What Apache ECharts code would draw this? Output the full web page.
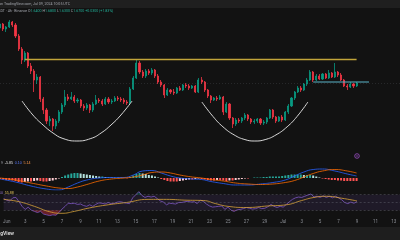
<!DOCTYPE html>
<html><head><meta charset="utf-8">
<script src="https://cdn.jsdelivr.net/npm/echarts@6/dist/echarts.min.js"></script>
<style>html,body{margin:0;padding:0;background:#121212;overflow:hidden}#c{width:400px;height:240px}</style>
</head><body><div id="c"></div>
<script>
// ---- time slots (8h candles), first slot May 31 2024 16:00 UTC
const firstSlot = Date.UTC(2024, 4, 31, 16);
const slotHours = 8;
const slotCount = 130;
const categories = [];
for (let i = 0; i < slotCount; i++) {
  categories.push(new Date(firstSlot + i * slotHours * 3600e3).toISOString().slice(0, 16).replace('T', ' '));
}
const monthNames = ['Jan','Feb','Mar','Apr','May','Jun','Jul','Aug','Sep','Oct','Nov','Dec'];

// ---- candles [open, close, low, high]
const candles = [
[2.22,2.26,2.20,2.29],[2.26,2.21,2.19,2.27],[2.21,2.23,2.18,2.24],[2.23,2.28,2.22,2.30],[2.28,2.25,2.23,2.29],
[2.25,2.14,2.12,2.27],[2.14,2.01,1.99,2.16],[2.01,1.90,1.86,2.03],[1.90,1.97,1.88,1.99],[1.97,1.84,1.82,1.98],
[1.84,1.79,1.76,1.87],[1.79,1.70,1.58,1.81],[1.70,1.73,1.66,1.76],[1.73,1.51,1.48,1.74],[1.51,1.40,1.36,1.53],
[1.40,1.29,1.26,1.42],[1.29,1.31,1.24,1.34],[1.31,1.24,1.19,1.32],[1.24,1.29,1.21,1.31],[1.29,1.38,1.27,1.40],
[1.38,1.45,1.36,1.47],[1.45,1.53,1.43,1.60],[1.53,1.51,1.49,1.56],[1.51,1.53,1.50,1.58],[1.53,1.49,1.47,1.55],
[1.49,1.50,1.47,1.52],[1.50,1.44,1.42,1.51],[1.44,1.42,1.39,1.46],[1.42,1.45,1.40,1.47],[1.45,1.40,1.37,1.46],
[1.40,1.46,1.38,1.48],[1.46,1.50,1.45,1.55],[1.50,1.49,1.47,1.52],[1.49,1.46,1.44,1.51],[1.46,1.51,1.45,1.53],
[1.51,1.48,1.46,1.53],[1.48,1.49,1.46,1.51],[1.49,1.52,1.48,1.54],[1.52,1.51,1.49,1.54],[1.51,1.50,1.48,1.53],
[1.50,1.48,1.46,1.52],[1.48,1.47,1.45,1.50],[1.47,1.61,1.46,1.63],[1.61,1.72,1.60,1.74],[1.72,1.87,1.71,1.90],
[1.87,1.78,1.76,1.89],[1.78,1.74,1.72,1.80],[1.74,1.79,1.72,1.81],[1.79,1.77,1.75,1.81],[1.77,1.80,1.75,1.82],
[1.80,1.74,1.72,1.81],[1.74,1.68,1.66,1.76],[1.68,1.65,1.63,1.70],[1.65,1.55,1.52,1.66],[1.55,1.60,1.54,1.62],
[1.60,1.58,1.56,1.61],[1.58,1.57,1.55,1.61],[1.57,1.62,1.56,1.63],[1.62,1.60,1.59,1.64],[1.60,1.65,1.59,1.66],
[1.65,1.64,1.62,1.67],[1.64,1.62,1.60,1.66],[1.62,1.64,1.61,1.65],[1.64,1.58,1.57,1.65],[1.58,1.70,1.57,1.72],
[1.70,1.68,1.66,1.73],[1.68,1.60,1.58,1.69],[1.60,1.54,1.52,1.61],[1.54,1.50,1.47,1.55],[1.50,1.52,1.49,1.53],
[1.52,1.51,1.49,1.54],[1.51,1.53,1.50,1.55],[1.53,1.38,1.35,1.54],[1.38,1.46,1.37,1.48],[1.46,1.32,1.30,1.47],
[1.32,1.26,1.22,1.33],[1.26,1.30,1.24,1.32],[1.30,1.29,1.27,1.32],[1.29,1.32,1.27,1.33],[1.32,1.35,1.30,1.37],
[1.35,1.31,1.29,1.36],[1.31,1.28,1.26,1.32],[1.28,1.29,1.26,1.31],[1.29,1.31,1.27,1.32],[1.31,1.27,1.25,1.32],
[1.27,1.28,1.25,1.30],[1.28,1.32,1.26,1.33],[1.32,1.40,1.31,1.41],[1.40,1.33,1.31,1.41],[1.33,1.29,1.27,1.34],
[1.29,1.33,1.28,1.34],[1.33,1.30,1.28,1.35],[1.30,1.38,1.29,1.39],[1.38,1.44,1.36,1.46],[1.44,1.52,1.43,1.53],
[1.52,1.58,1.50,1.59],[1.58,1.62,1.57,1.64],[1.62,1.60,1.58,1.64],[1.60,1.66,1.59,1.67],[1.66,1.70,1.64,1.72],
[1.70,1.78,1.69,1.80],[1.78,1.70,1.68,1.79],[1.70,1.74,1.69,1.76],[1.74,1.71,1.70,1.76],[1.71,1.76,1.70,1.77],
[1.76,1.72,1.71,1.77],[1.72,1.77,1.71,1.80],[1.77,1.73,1.72,1.78],[1.73,1.78,1.72,1.87],[1.78,1.75,1.73,1.79],
[1.75,1.70,1.69,1.77],[1.70,1.64,1.63,1.71],[1.64,1.63,1.60,1.66],[1.63,1.66,1.62,1.68],[1.66,1.64,1.62,1.67],
[1.64,1.67,1.63,1.68]
];

// ---- drawn annotations [slot index, price]
const resistanceLine = [[8, 1.905], [115, 1.905]];
const rangeLine = [[101, 1.68], [119, 1.68]];
const cupLeft = [[7.1,1.49],[10.6,1.35],[13.9,1.25],[17.1,1.17],[20.3,1.115],[24.8,1.09],[29.3,1.115],[32.6,1.17],[35.8,1.25],[39.0,1.35],[42.6,1.49]];
const cupRight = [[65.1,1.48],[68.7,1.335],[71.9,1.232],[75.5,1.151],[79.0,1.104],[82.2,1.09],[85.5,1.104],[89.0,1.151],[92.6,1.232],[95.8,1.335],[99.3,1.48]];

// ---- MACD
const macdHist = [
-1,-1.5,-2,-2,-2.5,-3,-4,-4.5,-4,-3.5,
-3.5,-3,-2.5,-3,-3.5,-3.5,-3,-2.5,-1.5,-0.5,
1,2.5,3.5,4.5,5,5,4.5,4,3.5,3,
2.5,2,1.5,1.5,1,1,0.5,0.5,0.5,0.3,
0,-0.3,1,2.5,4,5,4.5,4,3,2.5,
1.5,0.5,-1,-2,-3,-3.5,-3.5,-3.5,-3,-2.5,
-2,-1.5,-1.5,-1,-0.5,-1,-1.5,-2,-2.5,-2.5,
-2,-2,-2.5,-3,-2.5,-2.5,-2,-1.5,-1,-0.5,
-0.5,0,0.5,0.5,0.5,1,1,1.5,1.5,1.5,
1.5,2,2.5,3,3.5,3.5,3.5,3.5,3,3,
3,2.5,1.5,0.5,-0.5,-1,-1.5,-2,-2,-2.5,
-2.5,-3,-3,-3,-3,-3
];
const macdLine = [[0,-1],[5,-4],[10,-8],[15,-11],[19,-12],[22,-9],[25,-5],[28,-2],[32,0],[36,0.5],[40,0.5],[43,3],[46,7],[49,7.5],[52,5],[55,2],[58,0],[62,-1],[65,-1.5],[68,-3.5],[72,-5.5],[76,-7],[80,-7],[84,-6],[88,-4.5],[92,-2],[95,2],[98,6],[101,8.5],[104,9],[108,7],[112,4],[115,2]];
const signalLine = [[0,0],[5,-2],[10,-5],[15,-8],[19,-10],[22,-10.5],[25,-9],[28,-6.5],[32,-3],[36,-1],[40,0],[43,1],[46,3],[49,5.5],[52,6],[55,5],[58,3],[62,1],[65,0],[68,-1.5],[72,-3],[76,-5],[80,-6],[84,-6.5],[88,-6],[92,-4.5],[95,-2.5],[98,1],[101,4.5],[104,7],[108,8.5],[112,7],[115,5]];

// ---- RSI
const rsi = [
60,56,54,62,63, 52,40,32,38,30, 27,24,27,20,18, 16,18,17,24,33,
40,48,47,48,45, 46,42,40,44,40, 45,49,48,46,50, 47,48,51,52,50,
48,47,62,70,78, 68,63,66,64,66, 60,54,51,44,48, 47,46,50,50,52,
53,51,52,47,56, 53,46,41,38,39, 40,41,32,38,30, 27,31,32,34,37,
35,33,34,37,34, 35,39,45,40,37, 40,38,45,52,58, 62,64,63,66,69,
72,64,66,63,67, 63,66,62,66,62, 57,50,47,51,48, 52
];
const rsiMA = [[0,58],[5,52],[10,40],[15,26],[19,22],[23,27],[28,36],[34,44],[40,50],[47,58],[53,58],[59,56],[65,55],[69,47],[73,40],[79,37],[86,41],[92,44],[97,55],[101,63],[105,66],[110,61],[115,54]];
const rsiLevels = [70, 50, 30];

// ---- derived drawing helpers
const histColors = macdHist.map((v, i) => {
  const p = i > 0 ? macdHist[i - 1] : v;
  if (v >= 0) return v >= p ? '#26a69a' : '#b2dfdb';
  return v <= p ? '#ff5252' : '#ffcdd2';
});
const osBase = rsi.map(v => Math.min(v, 30));
const osFill = rsi.map(v => 30 - Math.min(v, 30));
const obBase = rsi.map(() => 70);
const obFill = rsi.map(v => Math.max(v, 70) - 70);

const FONT = 'Roboto, "Liberation Sans", sans-serif';
const chart = echarts.init(document.getElementById('c'), null, {renderer: 'canvas', width: 400, height: 240});

const catAxis = (g, showLabels) => ({
  type: 'category', gridIndex: g, data: categories, boundaryGap: false,
  axisLine: {show: false}, axisTick: {show: false}, splitLine: {show: false},
  axisLabel: showLabels ? {
    show: true, color: '#8c8f96', fontSize: 4.5, fontFamily: FONT, margin: 3.5,
    interval: (idx, val) => { const d = new Date(val.replace(' ', 'T') + ':00Z'); return d.getUTCHours() === 0 && d.getUTCDate() % 2 === 1; },
    formatter: (val) => { const d = new Date(val.replace(' ', 'T') + ':00Z'); return d.getUTCDate() === 1 ? monthNames[d.getUTCMonth()] : String(d.getUTCDate()); }
  } : {show: false}
});
const valAxis = (g) => ({type: 'value', gridIndex: g, min: 0, max: slotCount - 1, show: false});

chart.setOption({
  animation: false,
  backgroundColor: '#121212',
  grid: [
    {left: 0, right: 0, top: 15, height: 135},
    {left: 0, right: 0, top: 165, height: 25},
    {left: 0, right: 0, top: 187, height: 29}
  ],
  xAxis: [catAxis(0, false), catAxis(1, false), catAxis(2, true), valAxis(0), valAxis(1), valAxis(2)],
  yAxis: [
    {type: 'value', gridIndex: 0, min: 1.00, max: 2.35, show: false},
    {type: 'value', gridIndex: 1, min: -12, max: 13, show: false},
    {type: 'value', gridIndex: 2, min: 15, max: 90, show: false}
  ],
  series: [
    {type: 'candlestick', xAxisIndex: 0, yAxisIndex: 0, data: candles, barWidth: 1.6,
     itemStyle: {color: '#089981', color0: '#f23645', borderColor: '#089981', borderColor0: '#f23645', borderWidth: 0.8},
     markLine: {silent: true, symbol: 'none', label: {show: false},
       lineStyle: {type: [1, 2], color: 'rgba(120,123,134,0.35)', width: 0.6},
       data: [{yAxis: candles[candles.length - 1][1]}]}},
    {type: 'line', xAxisIndex: 3, yAxisIndex: 0, data: resistanceLine, symbol: 'none', lineStyle: {color: '#c2a53a', width: 1.4}},
    {type: 'line', xAxisIndex: 3, yAxisIndex: 0, data: rangeLine, symbol: 'none', lineStyle: {color: '#5ab4c8', width: 1}},
    {type: 'line', xAxisIndex: 3, yAxisIndex: 0, data: cupLeft, smooth: true, symbol: 'none', lineStyle: {color: '#d8d8d8', width: 1}},
    {type: 'line', xAxisIndex: 3, yAxisIndex: 0, data: cupRight, smooth: true, symbol: 'none', lineStyle: {color: '#d8d8d8', width: 1}},
    {type: 'bar', xAxisIndex: 1, yAxisIndex: 1, barWidth: 2,
     data: macdHist.map((v, i) => ({value: v, itemStyle: {color: histColors[i]}}))},
    {type: 'line', xAxisIndex: 4, yAxisIndex: 1, data: macdLine, smooth: true, symbol: 'none', lineStyle: {color: '#2962ff', width: 0.8}},
    {type: 'line', xAxisIndex: 4, yAxisIndex: 1, data: signalLine, smooth: true, symbol: 'none', lineStyle: {color: '#ff6d00', width: 0.8}},
    {type: 'line', xAxisIndex: 2, yAxisIndex: 2, data: osBase, stack: 'os', symbol: 'none', lineStyle: {width: 0, opacity: 0}},
    {type: 'line', xAxisIndex: 2, yAxisIndex: 2, data: osFill, stack: 'os', symbol: 'none', lineStyle: {width: 0, opacity: 0},
     areaStyle: {color: 'rgba(242,54,69,0.55)'}},
    {type: 'line', xAxisIndex: 2, yAxisIndex: 2, data: obBase, stack: 'ob', symbol: 'none', lineStyle: {width: 0, opacity: 0}},
    {type: 'line', xAxisIndex: 2, yAxisIndex: 2, data: obFill, stack: 'ob', symbol: 'none', lineStyle: {width: 0, opacity: 0},
     areaStyle: {color: 'rgba(8,153,129,0.5)'}},
    {type: 'line', xAxisIndex: 2, yAxisIndex: 2, data: rsi, symbol: 'none', lineStyle: {color: '#7e57c2', width: 0.8},
     markArea: {silent: true, itemStyle: {color: 'rgba(126,87,194,0.13)'}, data: [[{yAxis: 30}, {yAxis: 70}]]},
     markLine: {silent: true, symbol: 'none', label: {show: false},
       lineStyle: {type: [2, 2], color: 'rgba(120,123,134,0.6)', width: 0.6},
       data: rsiLevels.map(v => ({yAxis: v}))}},
    {type: 'line', xAxisIndex: 5, yAxisIndex: 2, data: rsiMA, smooth: true, symbol: 'none', lineStyle: {color: '#d9a53a', width: 0.8}}
  ],
  graphic: [
    {type: 'rect', shape: {x: 0, y: 0, width: 400, height: 7}, style: {fill: '#1f1f1f'}, z: 50},
    {type: 'rect', shape: {x: 0, y: 7, width: 400, height: 0.6}, style: {fill: '#2c2c2c'}, z: 50},
    {type: 'text', x: -1, y: 3.6, z: 60, style: {text: 'on TradingView.com, Jul 09, 2024 10:05 UTC', fill: '#a3a6ad', fontSize: 3.6, fontFamily: FONT, verticalAlign: 'middle'}},
    {type: 'text', x: -4, y: 10.8, z: 60, style: {
      text: '{g|USDT · 4h · Binance} {g|O}{v|1.6400} {g|H}{v|1.6800} {g|L}{v|1.6300} {g|C}{v|1.6700} {v|+0.0300 (+1.83%)}',
      fontSize: 3.6, fontFamily: FONT, verticalAlign: 'middle',
      rich: {g: {fill: '#a3a6ad', fontSize: 3.6, fontFamily: FONT}, v: {fill: '#22ab94', fontSize: 3.6, fontFamily: FONT}}}},
    {type: 'text', x: -30, y: 162.5, z: 60, style: {
      text: '{g|MACD 12 26 close 9}  {r|-5.85}  {b|0.10}  {o|5.14}',
      fontSize: 3.6, fontFamily: FONT, verticalAlign: 'middle',
      rich: {g: {fill: '#a3a6ad', fontSize: 3.6}, r: {fill: '#e0e0e0', fontSize: 3.6}, b: {fill: '#5b7cff', fontSize: 3.6}, o: {fill: '#ff9a4d', fontSize: 3.6}}}},
    {type: 'text', x: -6, y: 193.2, z: 60, style: {
      text: '{p|52.10}  {y|55.88}',
      fontSize: 3.6, fontFamily: FONT, verticalAlign: 'middle',
      rich: {p: {fill: '#9575cd', fontSize: 3.6}, y: {fill: '#e2c15a', fontSize: 3.6}}}},
    {type: 'circle', shape: {cx: 357, cy: 156, r: 2.3}, z: 60, style: {fill: 'none', stroke: '#9c4fc7', lineWidth: 0.8}},
    {type: 'circle', shape: {cx: 357, cy: 156, r: 0.7}, z: 60, style: {fill: '#9c4fc7'}},
    {type: 'rect', shape: {x: 0, y: 228, width: 400, height: 12}, style: {fill: '#1e1e1e'}, z: 50},
    {type: 'rect', shape: {x: 0, y: 227.5, width: 400, height: 0.6}, style: {fill: '#2a2a2a'}, z: 50},
    {type: 'text', x: 14, y: 233.5, z: 60, style: {text: 'TradingView', fill: '#d6d6d6', fontSize: 5, fontWeight: 'bold', fontFamily: FONT, align: 'right', verticalAlign: 'middle'}}
  ]
});
</script>
</body></html>
